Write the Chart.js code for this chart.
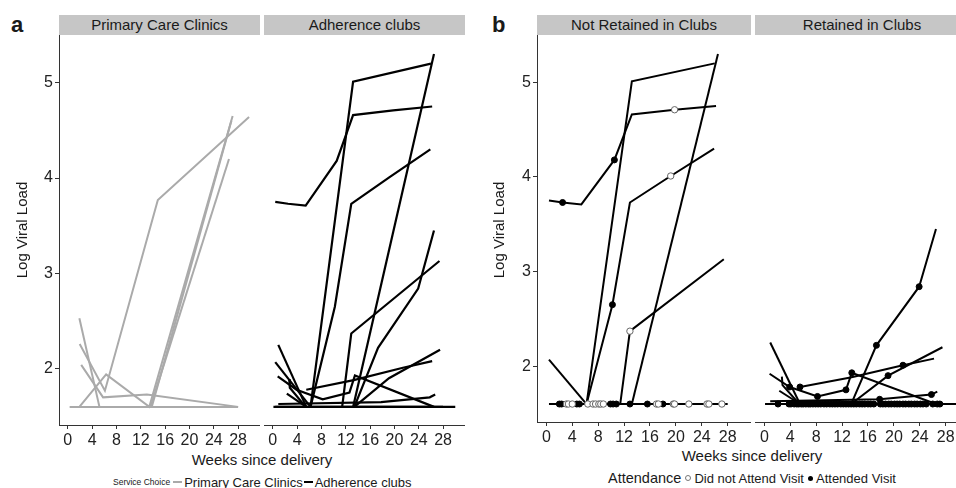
<!DOCTYPE html>
<html>
<head>
<meta charset="utf-8">
<script src="https://cdn.jsdelivr.net/npm/chart.js@4.4.1/dist/chart.umd.min.js"></script>
<style>
  body { margin: 0; width: 956px; height: 488px; overflow: hidden; background: #fff; position: relative;
         font-family: "Liberation Sans", Arial, sans-serif; color: #1a1a1a; }
  .abs { position: absolute; }
  .letter { font-size: 22px; font-weight: bold; }
  .strip { top: 15px; height: 20px; line-height: 20px; background: #c6c6c6; font-size: 15px; text-align: center; white-space: nowrap; overflow: hidden; }
  .ytitle { width: 200px; height: 20px; line-height: 20px; font-size: 15px; text-align: center; transform: rotate(-90deg); }
  .xtitle { width: 200px; height: 18px; line-height: 18px; font-size: 15px; text-align: center; }
  .legend { display: flex; align-items: center; white-space: nowrap; height: 18px; }
  .dash { display: inline-block; width: 9px; height: 2px; margin: 0 2px 0 3px; }
  .dot { display: inline-block; width: 5px; height: 5px; border-radius: 50%; margin: 0 3px 0 4px; }
</style>
</head>
<body>

<div class="abs letter" style="left:11px; top:12px;">a</div>
<div class="abs letter" style="left:492px; top:12px;">b</div>

<div class="abs strip" style="left:59px; width:201px;">Primary Care Clinics</div>
<div class="abs strip" style="left:264px; width:201px;">Adherence clubs</div>
<div class="abs strip" style="left:537px; width:214px;">Not Retained in Clubs</div>
<div class="abs strip" style="left:755px; width:214px;">Retained in Clubs</div>

<canvas id="aLeft"  class="abs" style="left:0px;   top:35px;" width="260" height="415"></canvas>
<canvas id="aRight" class="abs" style="left:264px; top:35px;" width="201" height="415"></canvas>
<canvas id="bLeft"  class="abs" style="left:480px; top:35px;" width="271" height="412"></canvas>
<canvas id="bRight" class="abs" style="left:755px; top:35px;" width="214" height="412"></canvas>

<div class="abs ytitle" style="left:-78px; top:220px;">Log Viral Load</div>
<div class="abs ytitle" style="left:399px; top:220px;">Log Viral Load</div>
<div class="abs xtitle" style="left:162px; top:451px;">Weeks since delivery</div>
<div class="abs xtitle" style="left:652px; top:447px;">Weeks since delivery</div>

<div class="abs legend" style="left:113px; top:473px;">
  <span style="font-size:8.5px;">Service Choice</span>
  <span class="dash" style="background:#aaaaaa;"></span>
  <span style="font-size:13px;">Primary Care Clinics</span>
  <span class="dash" style="background:#000; margin-left:1px;"></span>
  <span style="font-size:13px;">Adherence clubs</span>
</div>
<div class="abs legend" style="left:608px; top:469px;">
  <span style="font-size:14.5px;">Attendance</span>
  <span class="dot" style="background:#fff; border:1px solid #777; width:4px; height:4px;"></span>
  <span style="font-size:13px;">Did not Attend Visit</span>
  <span class="dot" style="background:#000;"></span>
  <span style="font-size:13px;">Attended Visit</span>
</div>

<script>
const weekTicks = [0, 4, 8, 12, 16, 20, 24, 28];
const vlTicks = [2, 3, 4, 5];
const detectLimit = 1.6;

// Primary care clinic women: weeks since delivery and log viral load
const pccWeeks = [
  [0.3, 28.0],
  [1.9, 5.2],
  [1.95, 6.1, 14.8, 29.8],
  [2.2, 5.8, 13.0, 28.0],
  [1.9, 6.3, 13.4, 27.1],
  [13.6, 26.5],
  [13.8, 26.9]
];
const pccVL = [
  [1.6, 1.6],
  [2.53, 1.6],
  [2.26, 1.77, 3.77, 4.64],
  [2.04, 1.70, 1.73, 1.6],
  [1.6, 1.94, 1.6, 4.65],
  [1.6, 4.2],
  [1.6, 4.6]
];

// Adherence club women not retained in clubs
const notRetWeeks = [
  [0.4, 2.5, 5.4, 10.5, 13.2, 19.8, 26.2],
  [6.2, 13.2, 26.0],
  [6.2, 10.2, 12.9, 19.2, 25.9],
  [11.4, 12.9, 27.4],
  [13.2, 26.5],
  [0.4, 6.2],
  [0.4, 28.0]
];
const notRetVL = [
  [3.75, 3.73, 3.71, 4.18, 4.66, 4.71, 4.75],
  [1.6, 5.01, 5.2],
  [1.6, 2.65, 3.73, 4.01, 4.3],
  [1.6, 2.37, 3.13],
  [1.6, 5.3],
  [2.07, 1.6],
  [1.6, 1.6]
];

// Adherence club women retained in clubs
const retWeeks = [
  [0.9, 5.5],
  [0.8, 3.9, 8.2, 12.6, 13.5, 26.5],
  [2.7, 2.8, 5.4],
  [2.3, 5.5],
  [5.5, 13.3, 21.4, 26.2],
  [13.4, 17.3, 23.9, 26.5],
  [13.4, 19.1, 27.5],
  [0.9, 17.8, 25.8, 26.7],
  [0.1, 30.0]
];
const retVL = [
  [2.25, 1.6],
  [1.92, 1.78, 1.68, 1.75, 1.93, 1.6],
  [1.89, 1.8, 1.6],
  [1.74, 1.6],
  [1.78, 1.88, 2.01, 2.08],
  [1.6, 2.22, 2.84, 3.45],
  [1.6, 1.9, 2.2],
  [1.63, 1.65, 1.7, 1.73],
  [1.6, 1.6]
];

// visit markers (panel b)
const nrAttWeeks = [2.5, 10.5, 10.2, 12.9];
const nrAttVL = [3.73, 4.18, 2.65, 1.6];
const nrAttBaseWeeks = [2.0, 2.35, 4.7, 5.1, 9.9, 10.3, 10.8, 15.6, 18.0];
const nrMissWeeks = [19.8, 19.2, 12.9];
const nrMissVL = [4.71, 4.01, 2.37];
const nrMissBaseWeeks = [3.1, 3.4, 4.0, 6.4, 7.2, 7.6, 8.1, 8.4, 8.8, 17.0, 17.3, 19.6, 19.8, 22.0, 24.8, 25.1, 27.1];
const rAttWeeks = [3.9, 8.2, 12.6, 13.5, 5.5, 21.4, 17.3, 23.9, 19.1, 25.8, 17.8];
const rAttVL = [1.78, 1.68, 1.75, 1.93, 1.78, 2.01, 2.22, 2.84, 1.9, 1.7, 1.65];
const rAttBaseWeeks = [2.1, 3.8, 4.1, 4.6, 5.0, 5.3, 5.7, 6.0, 6.4, 6.8, 7.1, 7.5, 7.9, 8.3, 8.7, 9.2, 9.6,
  10.1, 10.5, 10.9, 11.3, 11.8, 12.2, 12.6, 13.0, 13.4, 13.8, 14.2, 14.7, 15.1, 15.5, 16.0, 16.4, 16.9,
  17.9, 18.3, 18.7, 19.2, 19.6, 20.1, 20.5, 20.9, 21.4, 21.8, 22.3, 22.7, 23.2, 23.6, 24.1, 24.5, 25.0,
  26.0, 26.7, 27.1];

const xMin = -1.45, xMax = 31.6;
const yMin = 1.41, yMax = 5.5;
const fontFam = "'Liberation Sans', Arial, sans-serif";

function pts(weeks, vl) {
  return weeks.map((w, i) => ({ x: w, y: Array.isArray(vl) ? vl[i] : vl }));
}

function facet(id, lineWeeks, lineVL, color, width, marks, showY, yWidth) {
  const datasets = [];
  marks.forEach(m => {
    datasets.push({
      data: m.data, showLine: false, order: 0,
      pointRadius: m.r, pointBackgroundColor: m.fill, pointBorderColor: m.stroke, pointBorderWidth: 1
    });
  });
  lineWeeks.forEach((wk, i) => {
    datasets.push({
      data: pts(wk, lineVL[i]), showLine: true, order: 1,
      borderColor: color, borderWidth: width, pointRadius: 0, tension: 0
    });
  });

  new Chart(document.getElementById(id), {
    type: 'scatter',
    data: { datasets },
    options: {
      responsive: false,
      animation: false,
      events: [],
      layout: { padding: 0, autoPadding: false },
      plugins: { legend: { display: false }, tooltip: { enabled: false } },
      scales: {
        x: {
          type: 'linear', min: xMin, max: xMax,
          afterBuildTicks: s => { s.ticks = weekTicks.map(v => ({ value: v })); },
          afterFit: s => { s.height = 25; s.paddingLeft = 0; s.paddingRight = 0; },
          grid: { drawOnChartArea: false, tickLength: 4, color: '#333' },
          border: { color: '#333', width: 1 },
          ticks: { color: '#222', padding: 2, maxRotation: 0, autoSkip: false, font: { size: 16, family: fontFam } }
        },
        y: {
          type: 'linear', display: showY, min: yMin, max: yMax,
          afterBuildTicks: s => { s.ticks = vlTicks.map(v => ({ value: v })); },
          // keep the plot top flush with the strip
          afterFit: s => { s.width = yWidth; s.paddingTop = 0; s.paddingBottom = 0; },
          grid: { drawOnChartArea: false, tickLength: 4, color: '#333' },
          border: { color: '#333', width: 1 },
          ticks: { color: '#222', padding: 2, font: { size: 16, family: fontFam } }
        }
      }
    }
  });
}

// panel a
facet('aLeft', pccWeeks, pccVL, '#aaaaaa', 2, [], true, 59);
facet('aRight', notRetWeeks.concat(retWeeks), notRetVL.concat(retVL), '#000', 2.2, [], false, 0);

// panel b
const openMark = { r: 3.2, fill: '#fff', stroke: '#666' };
const fullMark = { r: 3, fill: '#000', stroke: '#000' };
facet('bLeft', notRetWeeks, notRetVL, '#000', 2, [
  Object.assign({ data: pts(nrMissWeeks, nrMissVL).concat(pts(nrMissBaseWeeks, detectLimit)) }, openMark),
  Object.assign({ data: pts(nrAttWeeks, nrAttVL).concat(pts(nrAttBaseWeeks, detectLimit)) }, fullMark)
], true, 57);
facet('bRight', retWeeks, retVL, '#000', 2, [
  Object.assign({ data: pts(rAttWeeks, rAttVL).concat(pts(rAttBaseWeeks, detectLimit)) }, fullMark)
], false, 0);
</script>
</body>
</html>
